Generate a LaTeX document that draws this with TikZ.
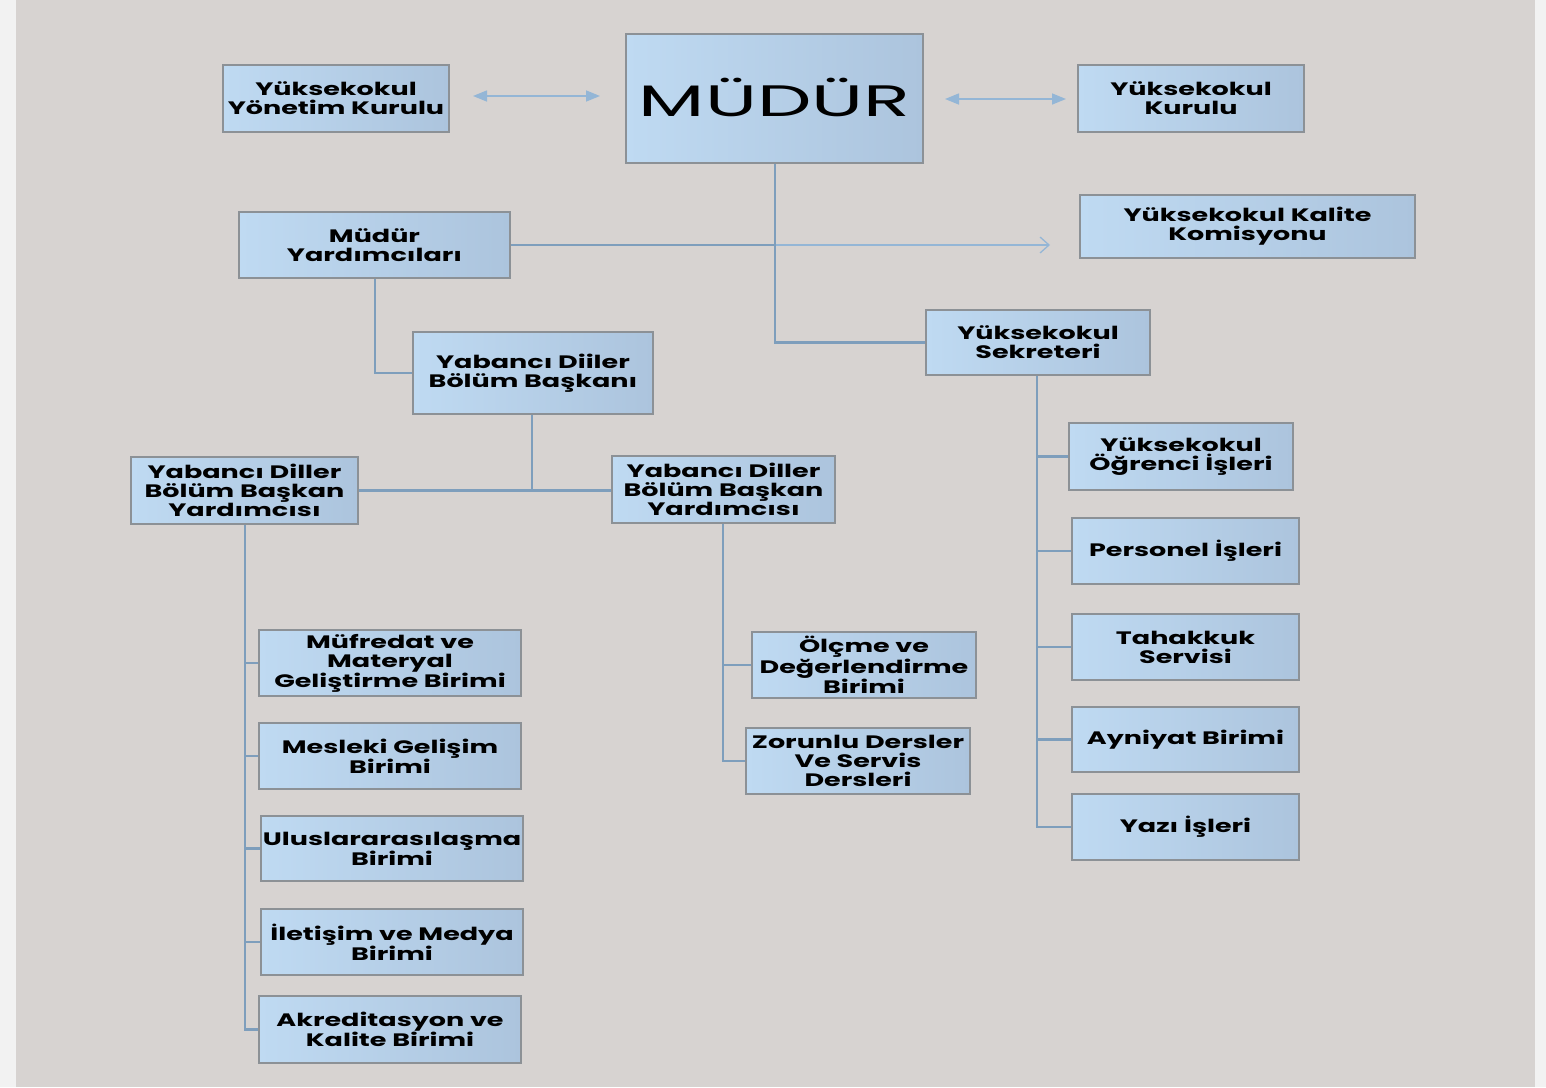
\documentclass[tikz,border=0pt]{standalone}
\usepackage{fontspec}
\usetikzlibrary{arrows.meta}
\newfontfamily\boxfont[FakeStretch=1.5]{Poppins}
\newfontfamily\bigfont[FakeStretch=1.75]{Poppins}
\definecolor{bgc}{HTML}{D7D3D1}
\definecolor{margc}{HTML}{F2F2F2}
\definecolor{boxL}{HTML}{BFDAF2}
\definecolor{boxR}{HTML}{ACC4DD}
\definecolor{boxB}{HTML}{8C9196}
\definecolor{linec}{HTML}{7E9EBC}
\definecolor{arrc}{HTML}{94B6D6}
\begin{document}
\begin{tikzpicture}[x=1pt,y=-1pt,
  box/.style={draw=boxB, line width=1.5pt, left color=boxL, right color=boxR,
    align=center, inner sep=0pt, font=\boxfont\bfseries\fontsize{18}{19}\selectfont},
  conn/.style={draw=linec, line width=2.3pt},
  dbl/.style={draw=arrc, line width=1.5pt, {Triangle[length=14pt,width=11pt]}-{Triangle[length=14pt,width=11pt]}},
  thinarr/.style={draw=arrc, line width=1.3pt, -{Straight Barb[length=9pt,width=16pt]}}]
\useasboundingbox (0,0) rectangle (1546,1087);
\fill[margc] (0,0) rectangle (1546,1087);
\fill[bgc] (16,0) rectangle (1535,1087);
% nodes
\node[box, minimum width=226pt, minimum height=67pt] (yk) at (336,98.5) {Yüksekokul\\Yönetim Kurulu};
\node[box, minimum width=297pt, minimum height=129pt, font=\bigfont\fontsize{44}{44}\selectfont] (mudur) at (774.5,98.5) {\raisebox{3pt}{MÜDÜR}};
\node[box, minimum width=226pt, minimum height=67pt] (ykk) at (1191,98.5) {Yüksekokul\\Kurulu};
\node[box, minimum width=335pt, minimum height=63pt] (kal) at (1247.5,226.5) {Yüksekokul Kalite\\Komisyonu};
\node[box, minimum width=271pt, minimum height=66pt] (my) at (374.5,245) {Müdür\\Yardımcıları};
\node[box, minimum width=240pt, minimum height=82pt] (bb) at (533,373) {Yabancı Diiler\\Bölüm Başkanı};
\node[box, minimum width=224pt, minimum height=65pt] (sek) at (1038,342.5) {Yüksekokul\\Sekreteri};
\node[box, minimum width=227pt, minimum height=67pt] (bbyl) at (244.5,490.5) {Yabancı Diller\\Bölüm Başkan\\Yardımcısı};
\node[box, minimum width=223pt, minimum height=67pt] (bbyr) at (723.5,489.5) {Yabancı Diller\\Bölüm Başkan\\Yardımcısı};
\node[box, minimum width=262pt, minimum height=66pt] (muf) at (390,663) {Müfredat ve\\Materyal\\Geliştirme Birimi};
\node[box, minimum width=262pt, minimum height=66pt] (mes) at (390,756) {Mesleki Gelişim\\Birimi};
\node[box, minimum width=262pt, minimum height=65pt] (ulu) at (392,848.5) {Uluslararasılaşma\\Birimi};
\node[box, minimum width=262pt, minimum height=66pt] (ile) at (392,942) {İletişim ve Medya\\Birimi};
\node[box, minimum width=262pt, minimum height=67pt] (akr) at (390,1029.5) {Akreditasyon ve\\Kalite Birimi};
\node[box, minimum width=224pt, minimum height=66pt] (olc) at (864,665) {Ölçme ve\\Değerlendirme\\Birimi};
\node[box, minimum width=224pt, minimum height=66pt] (zor) at (858,761) {Zorunlu Dersler\\Ve Servis\\Dersleri};
\node[box, minimum width=224pt, minimum height=67pt] (ogr) at (1181,456.5) {Yüksekokul\\Öğrenci İşleri};
\node[box, minimum width=227pt, minimum height=66pt] (per) at (1185.5,551) {Personel İşleri};
\node[box, minimum width=227pt, minimum height=66pt] (tah) at (1185.5,647) {Tahakkuk\\Servisi};
\node[box, minimum width=227pt, minimum height=65pt] (ayn) at (1185.5,739.5) {Ayniyat Birimi};
\node[box, minimum width=227pt, minimum height=66pt] (yaz) at (1185.5,827) {Yazı İşleri};
% double arrows
\coordinate (a1) at (473,96); \coordinate (a2) at (600,96);
\coordinate (a3) at (945,99); \coordinate (a4) at (1066,99);
\draw[dbl] (a1) -- (a2);
\draw[dbl] (a3) -- (a4);
% trunk
\coordinate (tj) at (775,245);
\coordinate (tk) at (1050,245);
\draw[thinarr] (tj) -- (tk);
\draw[conn] (mudur.south -| tj) |- (sek.west);
\draw[conn] (my.east) -- (tj);
% Müdür yardımcıları to bölüm başkanı
\draw[conn] (my.south -| 375,0) |- (bb.west);
% bölüm başkanı to yardımcılar
\coordinate (bj) at (532,490.5);
\draw[conn] (bb.south -| bj) -- (bj);
\draw[conn] (bbyl.east) -- (bj);
\draw[conn] (bj) -- (bj -| bbyr.west);
% left column
\draw[conn] (bbyl.south -| 245,0) |- (akr.west);
\foreach \n in {muf,mes,ulu,ile} \draw[conn] (\n.west) -- (\n.west -| 245,0);
% middle column
\draw[conn] (bbyr.south -| 723,0) |- (zor.west);
\draw[conn] (olc.west) -- (olc.west -| 723,0);
% right column
\draw[conn] (sek.south -| 1037,0) |- (yaz.west);
\foreach \n in {ogr,per,tah,ayn} \draw[conn] (\n.west) -- (\n.west -| 1037,0);
\end{tikzpicture}
\end{document}
